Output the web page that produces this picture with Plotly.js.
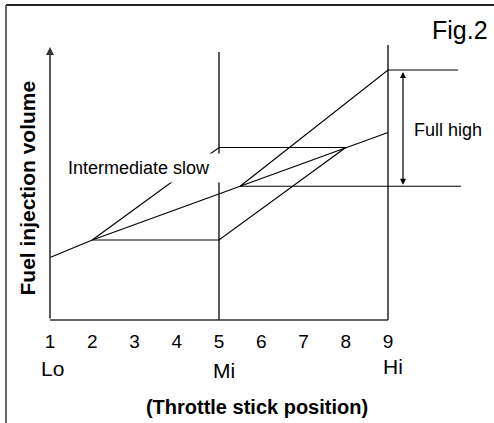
<!DOCTYPE html>
<html>
<head>
<meta charset="utf-8">
<script src="https://cdn.plot.ly/plotly-3.0.1.min.js"></script>
<style>html,body{margin:0;padding:0;background:#fff;}#chart{width:494px;height:423px;}</style>
</head>
<body>
<div id="chart"></div>
<script>
// ---- data ----
const tickVals = [1, 2, 3, 4, 5, 6, 7, 8, 9];
const tickText = ['1', '2', '3', '4', '5', '6', '7', '8', '9'];
const zoneX = [1, 5, 9];
const zoneLabels = ['Lo', 'Mi', 'Hi'];

const baseX = [1, 2];          const baseY = [2.5, 3.2];
const midX = [2, 9];           const midY = [3.2, 7.5];
const lowX = [2, 5, 8];        const lowY = [3.2, 3.2, 6.9];
const upX = [2, 5, 8];         const upY = [3.2, 6.9, 6.9];
const fullX = [5.5, 9, 10.66]; const fullY = [5.35, 10.0, 10.0];
const refX = [5.5, 10.73];     const refY = [5.35, 5.35];
const vMidX = [5, 5];          const vMidY = [0, 10.72];
const vHiX = [9, 9];           const vHiY = [0, 11.0];
const axisX = [1, 9];          const axisY = [0, 0];
const yArrowTop = 10.92;
const fullHighX = 9.355;

const FONT = 'Liberation Sans, Arial, sans-serif';
const thin = {color: '#000', width: 1.2};
const thick = {color: '#333', width: 1.6};
function ln(x, y, line) { return {x: x, y: y, type: 'scatter', mode: 'lines', line: line, hoverinfo: 'skip', showlegend: false}; }

const traces = [
  ln(axisX, axisY, thick),
  ln(vMidX, vMidY, thick),
  ln(vHiX, vHiY, thick),
  ln(baseX, baseY, thin),
  ln(midX, midY, thin),
  ln(lowX, lowY, thin),
  ln(upX, upY, thin),
  ln(fullX, fullY, thin),
  ln(refX, refY, thin)
];

const annotations = [
  // y-axis arrow
  {x: 1, y: yArrowTop, ax: 1, ay: 0, xref: 'x', yref: 'y', axref: 'x', ayref: 'y', text: '', showarrow: true, arrowhead: 2, arrowsize: 1, arrowwidth: 1.6, arrowcolor: '#333'},
  // full high double arrow
  {x: fullHighX, y: fullY[1], ax: fullHighX, ay: refY[0], xref: 'x', yref: 'y', axref: 'x', ayref: 'y', text: '', showarrow: true, arrowhead: 2, startarrowhead: 2, arrowside: 'end+start', arrowsize: 1, arrowwidth: 1.2, arrowcolor: '#000', standoff: 2, startstandoff: 0},
  {x: 9.568, y: 7.6, xref: 'x', yref: 'y', text: 'Full high', showarrow: false, xanchor: 'left', yanchor: 'middle', font: {family: FONT, size: 18, color: '#000'}},
  {x: 3.107, y: 6.08, xref: 'x', yref: 'y', text: 'Intermediate slow', showarrow: false, xanchor: 'center', yanchor: 'middle', bgcolor: '#fff', width: 160, height: 22, borderpad: 3, font: {family: FONT, size: 18, color: '#000'}},
  {x: 0.981, y: 1.035, xref: 'paper', yref: 'paper', text: 'Fig.2', showarrow: false, xanchor: 'center', yanchor: 'middle', font: {family: FONT, size: 25, color: '#000'}},
  {x: -0.045, y: 0.479, xref: 'paper', yref: 'paper', text: '<b>Fuel injection volume</b>', textangle: -90, showarrow: false, xanchor: 'center', yanchor: 'middle', font: {family: FONT, size: 21, color: '#000'}}
];
const zoneShift = [2, 5, 5];
const zoneY = [-0.151, -0.158, -0.144];
for (let i = 0; i < zoneX.length; i++) {
  annotations.push({x: zoneX[i], y: zoneY[i], xref: 'x', yref: 'paper', xshift: zoneShift[i], text: zoneLabels[i], showarrow: false, xanchor: 'center', yanchor: 'middle', font: {family: FONT, size: 21, color: '#000'}});
}

const layout = {
  width: 494, height: 423,
  margin: {l: 46, r: 26, t: 40, b: 98, pad: 0},
  paper_bgcolor: '#fff', plot_bgcolor: '#fff',
  showlegend: false,
  font: {family: FONT, color: '#000'},
  xaxis: {
    range: [0.90533, 10.8935], showgrid: false, zeroline: false, showline: false,
    tickmode: 'array', tickvals: tickVals, ticktext: tickText, ticks: '', ticklabelstandoff: 3,
    tickfont: {family: FONT, size: 19, color: '#000'},
    title: {text: '<b>(Throttle stick position)</b>', font: {family: FONT, size: 20, color: '#000'}, standoff: 48}
  },
  yaxis: {
    range: [-0.2, 11.2], showgrid: false, zeroline: false, showline: false, showticklabels: false, ticks: ''
  },
  shapes: [
    {type: 'line', xref: 'paper', yref: 'paper', x0: -0.0948, x1: 1.14, y0: 1.1228, y1: 1.1228, line: {color: '#222', width: 2}},
    {type: 'line', xref: 'paper', yref: 'paper', x0: -0.0948, x1: -0.0948, y0: 1.1228, y1: -0.36, line: {color: '#666', width: 2}}
  ],
  annotations: annotations
};

Plotly.newPlot('chart', traces, layout, {displayModeBar: false, staticPlot: true});
</script>
</body>
</html>
